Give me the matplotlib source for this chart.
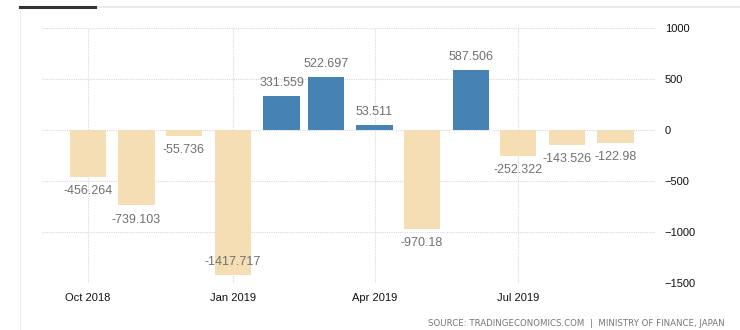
import matplotlib
matplotlib.use("Agg")
import matplotlib.pyplot as plt
import numpy as np
import pandas as pd
from matplotlib.lines import Line2D

# Japan balance of trade (JPY billion), monthly
months = ["2018-10-01", "2018-11-01", "2018-12-01", "2019-01-01", "2019-02-01", "2019-03-01",
          "2019-04-01", "2019-05-01", "2019-06-01", "2019-07-01", "2019-08-01", "2019-09-01"]
values = [-456.264, -739.103, -55.736, -1417.717, 331.559, 522.697,
          53.511, -970.18, 587.506, -252.322, -143.526, -122.98]
labels = ["-456.264", "-739.103", "-55.736", "-1417.717", "331.559", "522.697",
          "53.511", "-970.18", "587.506", "-252.322", "-143.526", "-122.98"]
tick_dates = ["2018-10-01", "2019-01-01", "2019-04-01", "2019-07-01"]
tick_labels = ["Oct 2018", "Jan 2019", "Apr 2019", "Jul 2019"]
y_ticks = [1000, 500, 0, -500, -1000, -1500]

dates = pd.to_datetime(months)
vals = np.array(values)

fig = plt.figure(figsize=(7.4, 3.3), dpi=100)
plt.rcParams["font.family"] = ["Liberation Sans", "DejaVu Sans"]

# axes placed in pixels: x 42..655, y 28..283
ax = fig.add_axes([42 / 740, 47 / 330, 613 / 740, 255 / 330])

colors = ["#4682b4" if v >= 0 else "#f5deb3" for v in vals]
ax.bar(dates, vals, width=23, color=colors, zorder=2)

ax.set_ylim(-1500, 1000)
ax.set_xlim(pd.Timestamp("2018-09-02"), pd.Timestamp("2019-09-26"))

# value labels: above positive bars, below negative ones (inside if no room)
for d, v, t in zip(dates, vals, labels):
    if v >= 0 or v - 120 < -1500:
        ax.annotate(t, (d, v), xytext=(0, 5), textcoords="offset points",
                    ha="center", va="bottom", fontsize=9, color="#707070")
    else:
        ax.annotate(t, (d, v), xytext=(0, -6), textcoords="offset points",
                    ha="center", va="top", fontsize=9, color="#707070")

# grid
ax.set_yticks(y_ticks)
ax.set_xticks(pd.to_datetime(tick_dates))
ax.set_xticklabels(tick_labels)
ax.grid(True, color="#d8d8d8", linestyle=(0, (1, 1)), linewidth=0.8, zorder=0)
ax.set_axisbelow(True)

ax.yaxis.tick_right()
ax.tick_params(axis="y", length=0, pad=7, labelsize=8, labelcolor="#111111")
ax.tick_params(axis="x", length=0, pad=7, labelsize=8, labelcolor="#111111")
for s in ax.spines.values():
    s.set_visible(False)

# frame decorations
fig.add_artist(Line2D([95 / 740, 1], [1 - 7 / 330, 1 - 7 / 330], color="#e6e6e6", linewidth=1.2))
fig.add_artist(Line2D([20 / 740, 95 / 740], [1 - 7 / 330, 1 - 7 / 330], color="#333333", linewidth=2.2))
fig.add_artist(Line2D([20 / 740, 20 / 740], [0, 1 - 10 / 330], color="#eeeeee", linewidth=0.8))

fig.text(725 / 740, 1 - 323 / 330, "SOURCE: TRADINGECONOMICS.COM  |  MINISTRY OF FINANCE, JAPAN",
         ha="right", va="center", fontsize=6.2, color="#777777", family="DejaVu Sans")

fig.savefig("out.png", dpi=100)
